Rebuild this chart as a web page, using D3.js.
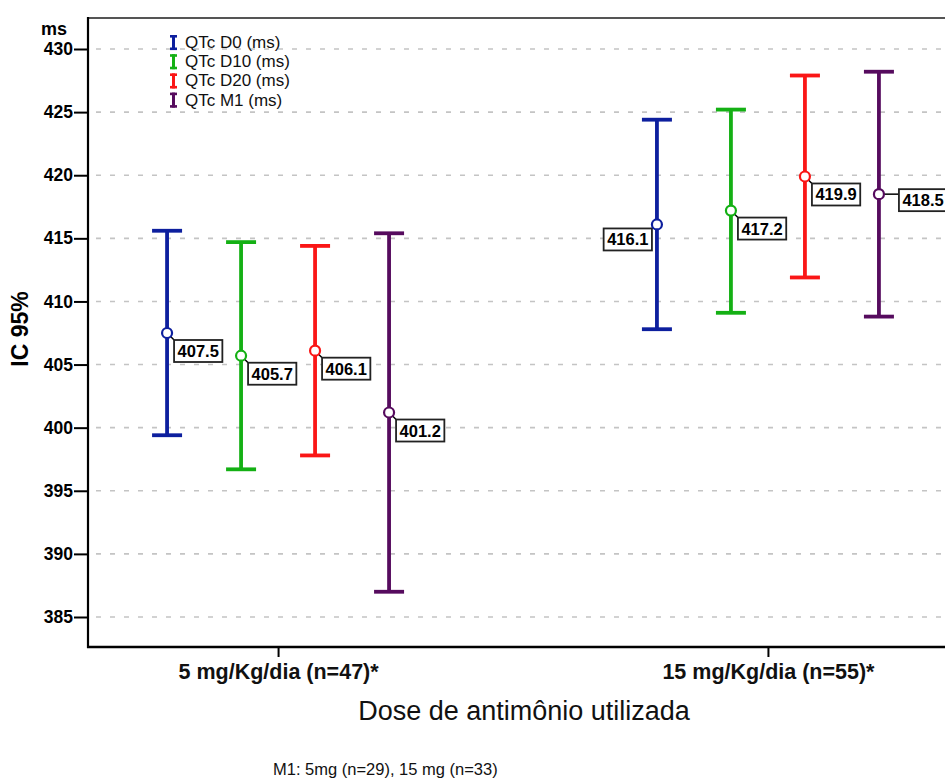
<!DOCTYPE html>
<html>
<head>
<meta charset="utf-8">
<script src="https://cdn.jsdelivr.net/npm/d3@7"></script>
<style>
  html, body { margin: 0; padding: 0; background: #fff; }
  svg { display: block; }
  text { font-family: "Liberation Sans", Arial, sans-serif; }
</style>
</head>
<body>
<script>
// Dose groups on the x axis
const categories = ["5 mg/Kg/dia (n=47)*", "15 mg/Kg/dia (n=55)*"];
// QTc measurements, one error bar per series in each dose group
const seriesNames = ["QTc D0 (ms)", "QTc D10 (ms)", "QTc D20 (ms)", "QTc M1 (ms)"];
const seriesColors = ["#0d1f9e", "#14b014", "#fa1616", "#560b5e"];

// Mean QTc (ms) per dose group
const meanD0  = [407.5, 416.1];
const meanD10 = [405.7, 417.2];
const meanD20 = [406.1, 419.9];
const meanM1  = [401.2, 418.5];

// 95% confidence interval bounds (ms)
const lowD0  = [399.4, 407.8];
const highD0 = [415.6, 424.4];
const lowD10  = [396.7, 409.1];
const highD10 = [414.7, 425.2];
const lowD20  = [397.8, 411.9];
const highD20 = [414.4, 427.9];
const lowM1  = [387.0, 408.8];
const highM1 = [415.4, 428.2];

// Y axis ticks
const yTicks = [385, 390, 395, 400, 405, 410, 415, 420, 425, 430];
const footnote = "M1: 5mg (n=29), 15 mg (n=33)";

const means = [meanD0, meanD10, meanD20, meanM1];
const lows  = [lowD0, lowD10, lowD20, lowM1];
const highs = [highD0, highD10, highD20, highM1];

// where each value box sits relative to its mean marker: [series][category]
const labelSide = [["br", "bl"], ["br", "br"], ["br", "br"], ["br", "r"]];

const W = 945, H = 778;
const plotLeft = 88, plotRight = 958, plotTop = 18, plotBottom = 647;

const svg = d3.select("body").append("svg").attr("width", W).attr("height", H);

const y = d3.scaleLinear().domain([385, 430]).range([617, 49]);
const x = d3.scalePoint().domain(categories).range([plotLeft, plotRight]).padding(0.388);
const xs = d3.scalePoint().domain(seriesNames).range([-111, 111]);

// gridlines
svg.append("g").selectAll("line").data(yTicks).join("line")
  .attr("x1", plotLeft + 8).attr("x2", W)
  .attr("y1", d => y(d)).attr("y2", d => y(d))
  .attr("stroke", "#c4c4c4").attr("stroke-width", 1.6)
  .attr("stroke-dasharray", "5,9");

// frame top
svg.append("line").attr("x1", plotLeft).attr("x2", W).attr("y1", plotTop).attr("y2", plotTop)
  .attr("stroke", "#555").attr("stroke-width", 2);

// y axis
const yAxis = d3.axisLeft(y).tickValues(yTicks).tickSize(14).tickPadding(1).tickFormat(d3.format("d"));
const gy = svg.append("g").attr("transform", `translate(${plotLeft},0)`).call(yAxis);
gy.select(".domain").remove();
gy.selectAll(".tick line").attr("stroke", "#000").attr("stroke-width", 2);
gy.selectAll(".tick text").attr("font-size", 17.5).attr("font-weight", "bold").attr("fill", "#000")
  .attr("font-family", "'Liberation Sans', Arial, sans-serif");
svg.append("line").attr("x1", plotLeft).attr("x2", plotLeft).attr("y1", plotTop - 1).attr("y2", plotBottom + 1)
  .attr("stroke", "#000").attr("stroke-width", 2.2);

// x axis
const xAxis = d3.axisBottom(x).tickSize(10).tickPadding(7);
const gx = svg.append("g").attr("transform", `translate(0,${plotBottom})`).call(xAxis);
gx.select(".domain").remove();
gx.selectAll(".tick line").attr("stroke", "#000").attr("stroke-width", 2);
gx.selectAll(".tick text").attr("font-size", 21.5).attr("font-weight", "bold").attr("fill", "#111")
  .attr("font-family", "'Liberation Sans', Arial, sans-serif");
svg.append("line").attr("x1", plotLeft - 1).attr("x2", W).attr("y1", plotBottom).attr("y2", plotBottom)
  .attr("stroke", "#000").attr("stroke-width", 2.6);

// axis titles
svg.append("text").attr("x", 41).attr("y", 35).attr("font-size", 18).attr("font-weight", "bold").text("ms");
svg.append("text").attr("transform", "translate(28,329) rotate(-90)").attr("text-anchor", "middle")
  .attr("font-size", 23).attr("font-weight", "bold").text("IC 95%");
svg.append("text").attr("x", 524).attr("y", 720).attr("text-anchor", "middle")
  .attr("font-size", 27).attr("fill", "#111").text("Dose de antimônio utilizada");
svg.append("text").attr("x", 273).attr("y", 775).attr("font-size", 16.5).attr("fill", "#111").text(footnote);

// error bars
const capW = 30;
const bars = [];
seriesNames.forEach((s, si) => {
  categories.forEach((c, ci) => {
    bars.push({ s, si, c, ci, mean: means[si][ci], lo: lows[si][ci], hi: highs[si][ci],
      cx: x(c) + xs(s), color: seriesColors[si], side: labelSide[si][ci] });
  });
});

const gb = svg.append("g");
bars.forEach(b => {
  const g = gb.append("g").attr("stroke", b.color).attr("stroke-width", 3.8);
  g.append("line").attr("x1", b.cx).attr("x2", b.cx).attr("y1", y(b.hi)).attr("y2", y(b.lo));
  g.append("line").attr("x1", b.cx - capW / 2).attr("x2", b.cx + capW / 2).attr("y1", y(b.hi)).attr("y2", y(b.hi));
  g.append("line").attr("x1", b.cx - capW / 2).attr("x2", b.cx + capW / 2).attr("y1", y(b.lo)).attr("y2", y(b.lo));
});

// value labels with leader lines
const gl = svg.append("g");
bars.forEach(b => {
  const px = b.cx, py = y(b.mean);
  const txt = b.mean.toFixed(1);
  const tmp = gl.append("text").attr("font-size", 16.5).attr("font-weight", "bold").text(txt);
  const tw = tmp.node().getComputedTextLength();
  tmp.remove();
  const bw = tw + 7, bh = 22;
  let bx, by, lx, ly;
  if (b.side === "br") { bx = px + 7; by = py + 7; lx = bx; ly = by; }
  else if (b.side === "bl") { bx = px - 5 - bw; by = py + 4; lx = bx + bw; ly = by; }
  else { bx = px + 20; by = py - 5; lx = bx; ly = py; }
  gl.append("line").attr("x1", px).attr("y1", py).attr("x2", lx).attr("y2", ly)
    .attr("stroke", "#000").attr("stroke-width", 1.5);
  gl.append("rect").attr("x", bx).attr("y", by).attr("width", bw).attr("height", bh)
    .attr("fill", "#fff").attr("stroke", "#222").attr("stroke-width", 1.8);
  gl.append("text").attr("x", bx + 3.5).attr("y", by + bh / 2 + 6).attr("font-size", 16.5)
    .attr("font-weight", "bold").attr("fill", "#000").text(txt);
});

// mean markers
svg.append("g").selectAll("circle").data(bars).join("circle")
  .attr("cx", d => d.cx).attr("cy", d => y(d.mean)).attr("r", 5)
  .attr("fill", "#fff").attr("stroke", d => d.color).attr("stroke-width", 2.2);

// legend
const lg = svg.append("g");
seriesNames.forEach((s, i) => {
  const cy = 42.5 + i * 19.2;
  const g = lg.append("g").attr("fill", seriesColors[i]);
  g.append("rect").attr("x", 170).attr("y", cy - 7.5).attr("width", 7).attr("height", 2.6);
  g.append("rect").attr("x", 172).attr("y", cy - 7.5).attr("width", 3).attr("height", 15);
  g.append("rect").attr("x", 170).attr("y", cy + 5).attr("width", 7).attr("height", 2.6);
  lg.append("text").attr("x", 185).attr("y", cy + 5.5).attr("font-size", 17).attr("fill", "#111").text(s);
});
</script>
</body>
</html>
